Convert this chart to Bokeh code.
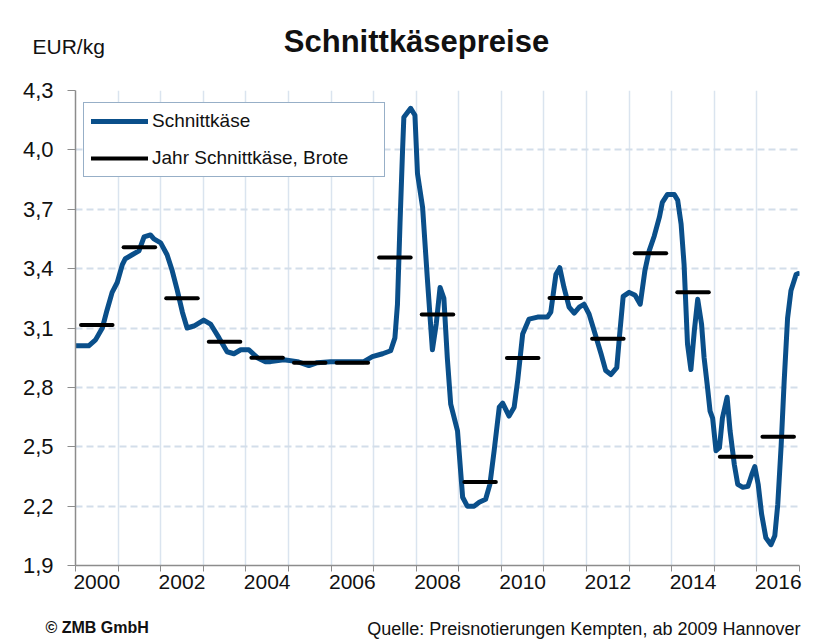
from bokeh.plotting import figure
from bokeh.models import (FixedTicker, CustomJSTickFormatter, Label, Legend,
                          LegendItem, ColumnDataSource, Range1d)
from bokeh.embed import file_html
from bokeh.resources import INLINE

# ---- data -------------------------------------------------------------
time = [2000.00, 2000.31, 2000.47, 2000.63, 2000.74, 2000.86, 2000.98, 2001.10,
        2001.17, 2001.33, 2001.49, 2001.61, 2001.76, 2001.84, 2002.00, 2002.15,
        2002.27, 2002.39, 2002.51, 2002.62, 2002.78, 2003.01, 2003.17, 2003.37,
        2003.56, 2003.72, 2003.88, 2004.07, 2004.27, 2004.45, 2004.58, 2004.89,
        2005.21, 2005.48, 2005.68, 2005.99, 2006.38, 2006.77, 2006.97, 2007.21,
        2007.40, 2007.50, 2007.56, 2007.62, 2007.68, 2007.71, 2007.87, 2007.97,
        2008.03, 2008.15, 2008.26, 2008.38, 2008.47, 2008.56, 2008.65, 2008.73,
        2008.81, 2008.97, 2009.09, 2009.20, 2009.36, 2009.48, 2009.63, 2009.73,
        2009.83, 2009.95, 2010.03, 2010.18, 2010.30, 2010.38, 2010.50, 2010.65,
        2010.85, 2011.08, 2011.16, 2011.28, 2011.37, 2011.47, 2011.59, 2011.71,
        2011.83, 2011.94, 2012.06, 2012.18, 2012.34, 2012.45, 2012.57, 2012.71,
        2012.77, 2012.86, 2013.00, 2013.14, 2013.26, 2013.37, 2013.47, 2013.59,
        2013.71, 2013.78, 2013.90, 2014.06, 2014.14, 2014.22, 2014.29, 2014.33,
        2014.37, 2014.45, 2014.53, 2014.61, 2014.70, 2014.76, 2014.84, 2014.90,
        2014.96, 2015.04, 2015.12, 2015.19, 2015.30, 2015.37, 2015.47, 2015.55,
        2015.67, 2015.79, 2015.88, 2015.95, 2016.03, 2016.11, 2016.21, 2016.33,
        2016.42, 2016.49, 2016.57, 2016.64, 2016.72, 2016.80, 2016.92, 2016.97]

schnittkaese = [3.01, 3.01, 3.04, 3.10, 3.19, 3.28, 3.33, 3.42,
                3.45, 3.47, 3.49, 3.56, 3.57, 3.55, 3.53, 3.47,
                3.39, 3.29, 3.18, 3.10, 3.11, 3.14, 3.12, 3.05,
                2.98, 2.97, 2.99, 2.99, 2.95, 2.93, 2.93, 2.94,
                2.93, 2.91, 2.925, 2.93, 2.93, 2.93, 2.955, 2.97,
                2.985, 3.05, 3.22, 3.63, 4.00, 4.165, 4.21, 4.175,
                3.88, 3.71, 3.355, 2.99, 3.12, 3.305, 3.25, 2.95,
                2.715, 2.58, 2.245, 2.20, 2.20, 2.22, 2.235, 2.31,
                2.48, 2.70, 2.72, 2.655, 2.70, 2.83, 3.07, 3.145,
                3.155, 3.155, 3.18, 3.37, 3.405, 3.305, 3.205, 3.175,
                3.205, 3.22, 3.17, 3.085, 2.97, 2.885, 2.865, 2.90,
                3.05, 3.26, 3.28, 3.265, 3.22, 3.39, 3.49, 3.565,
                3.66, 3.735, 3.775, 3.775, 3.745, 3.625, 3.42, 3.22,
                3.02, 2.89, 3.085, 3.245, 3.12, 2.95, 2.80, 2.68,
                2.645, 2.48, 2.495, 2.645, 2.75, 2.58, 2.41, 2.31,
                2.295, 2.30, 2.36, 2.40, 2.31, 2.16, 2.04, 2.005,
                2.05, 2.21, 2.51, 2.83, 3.15, 3.29, 3.37, 3.375]

years = [2000, 2001, 2002, 2003, 2004, 2005, 2006, 2007, 2008,
         2009, 2010, 2011, 2012, 2013, 2014, 2015, 2016]
jahr_mittel = [3.115, 3.508, 3.250, 3.031, 2.950, 2.925, 2.925, 3.456, 3.168,
               2.322, 2.948, 3.252, 3.046, 3.478, 3.281, 2.449, 2.550]

y_ticks = [1.9, 2.2, 2.5, 2.8, 3.1, 3.4, 3.7, 4.0, 4.3]
x_label_years = [2000, 2002, 2004, 2006, 2008, 2010, 2012, 2014, 2016]

FONT = "Liberation Sans"
BLUE = "#0A4F8A"
TXT = "#111111"
W = 822


def text_strip(height):
    f = figure(width=W, height=height, x_range=Range1d(0, W), y_range=Range1d(height, 0),
               x_axis_type=None, y_axis_type=None,
               min_border_left=0, min_border_right=0, min_border_top=0, min_border_bottom=0,
               output_backend="svg", toolbar_location=None)
    f.outline_line_color = None
    f.grid.visible = False
    return f


# ---- header (title texts) --------------------------------------------
HEAD_H = 78
head = text_strip(HEAD_H)
head.add_layout(Label(x=416, y=41, text="Schnittkäsepreise",
                      text_font=FONT, text_font_size="31px", text_font_style="bold",
                      text_align="center", text_baseline="middle", text_color=TXT))
head.add_layout(Label(x=32, y=46, text="EUR/kg",
                      text_font=FONT, text_font_size="21px",
                      text_align="left", text_baseline="middle", text_color=TXT))

# ---- main chart -------------------------------------------------------
MAIN_TOP, MAIN_FRAME, MAIN_BOTTOM = 12, 475, 40
p = figure(frame_width=724, frame_height=MAIN_FRAME,
           min_border_left=75, min_border_right=23,
           min_border_top=MAIN_TOP, min_border_bottom=MAIN_BOTTOM,
           x_range=(2000, 2017), y_range=(1.9, 4.3),
           output_backend="svg", toolbar_location=None,
           background_fill_color="white", border_fill_color="white")
p.outline_line_color = None

xa = p.xaxis[0]
xa.ticker = FixedTicker(ticks=[y + 0.5 for y in x_label_years],
                        minor_ticks=years + [2017])
xa.formatter = CustomJSTickFormatter(code="return String(Math.floor(tick));")
xa.major_tick_out = 0
xa.major_tick_in = 0
xa.minor_tick_out = 6
xa.minor_tick_in = 0
xa.minor_tick_line_color = "#8C8C8C"
xa.axis_line_color = "#8C8C8C"
xa.axis_line_width = 1.5
xa.major_label_standoff = 3
xa.major_label_text_font = FONT
xa.major_label_text_font_size = "21px"
xa.major_label_text_color = TXT

ya = p.yaxis[0]
ya.ticker = FixedTicker(ticks=y_ticks)
ya.formatter = CustomJSTickFormatter(code="return tick.toFixed(1).replace('.', ',');")
ya.major_tick_out = 8
ya.major_tick_in = 0
ya.minor_tick_out = 0
ya.minor_tick_in = 0
ya.major_tick_line_color = "#8C8C8C"
ya.axis_line_color = "#8C8C8C"
ya.axis_line_width = 1.5
ya.major_label_standoff = 14
ya.major_label_text_font = FONT
ya.major_label_text_font_size = "22px"
ya.major_label_text_color = TXT

p.xgrid.ticker = FixedTicker(ticks=years[1:] + [2017])
p.xgrid.grid_line_color = "#DAE4EF"
p.xgrid.grid_line_width = 1.5
p.ygrid.ticker = FixedTicker(ticks=y_ticks[1:])
p.ygrid.grid_line_color = "#D3DEEA"
p.ygrid.grid_line_width = 2
p.ygrid.grid_line_dash = "7 4"

src = ColumnDataSource(dict(t=time, v=schnittkaese))
r_line = p.line("t", "v", source=src, line_color=BLUE, line_width=5,
                line_join="round", line_cap="round")

bar_src = ColumnDataSource(dict(x0=[y + 0.13 for y in years],
                                x1=[y + 0.87 for y in years],
                                v=jahr_mittel))
r_bar = p.segment(x0="x0", y0="v", x1="x1", y1="v", source=bar_src,
                  line_color="black", line_width=4, line_cap="round")

legend = Legend(items=[LegendItem(label="Schnittkäse", renderers=[r_line]),
                       LegendItem(label="Jahr Schnittkäse, Brote", renderers=[r_bar])],
                location=(8, 388), orientation="vertical",
                padding=7, spacing=15, glyph_width=57, glyph_height=22,
                label_height=22, label_standoff=4, label_width=225,
                label_text_font=FONT, label_text_font_size="19px",
                label_text_color=TXT,
                border_line_color="#2F5F8F", border_line_width=1.5,
                background_fill_color="white", background_fill_alpha=1.0)
p.add_layout(legend, "center")

# ---- footer (credits) --------------------------------------------------
FOOT_H = 641 - HEAD_H - (MAIN_TOP + MAIN_FRAME + MAIN_BOTTOM)
foot = text_strip(FOOT_H)
foot.add_layout(Label(x=45, y=FOOT_H - 14, text="© ZMB GmbH",
                      text_font=FONT, text_font_size="16px", text_font_style="bold",
                      text_align="left", text_baseline="middle", text_color=TXT))
foot.add_layout(Label(x=800, y=FOOT_H - 13, text="Quelle: Preisnotierungen Kempten, ab 2009 Hannover",
                      text_font=FONT, text_font_size="18px",
                      text_align="right", text_baseline="middle", text_color=TXT))

open("out.html", "w").write(file_html([head, p, foot], INLINE))
